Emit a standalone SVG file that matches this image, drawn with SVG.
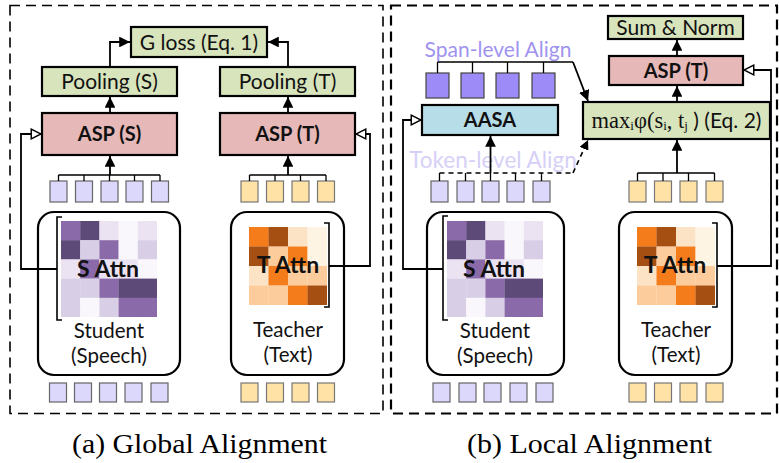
<svg xmlns="http://www.w3.org/2000/svg" width="779" height="463" viewBox="0 0 779 463">
<style>
.panel{fill:none;stroke:#000;stroke-width:1.6;stroke-dasharray:10,6}
.g{fill:#d8e4bc;stroke:#000;stroke-width:2.2}
.p{fill:#e6b8b7;stroke:#000;stroke-width:2.2}
.b{fill:#b7dee8;stroke:#000;stroke-width:2.2}
.rb{fill:#fff;stroke:#000;stroke-width:2.2}
.t{font-family:Lato,"Liberation Sans",sans-serif;font-size:21px;fill:#111;text-anchor:middle}
.bold{font-weight:bold;font-size:20px}
.att{font-weight:bold;font-size:23px}
.lbl{font-size:20.5px}
.sq{fill:#dcd8fc;stroke:#666;stroke-width:1.2}
.tq{fill:#ffe2a6;stroke:#777;stroke-width:1.2}
.spq{fill:#9d8cf7;stroke:#444;stroke-width:1.2}
.ln{fill:none;stroke:#000;stroke-width:1.8}
.tk{fill:none;stroke:#000;stroke-width:1.3}
.dl{fill:none;stroke:#000;stroke-width:1.6;stroke-dasharray:5,4}
.ar{marker-end:url(#ah)}
.ho{marker-end:url(#hh)}
.cap{font-family:"Liberation Serif",serif;font-size:27px;fill:#000;text-anchor:middle}
.br{fill:none;stroke:#000;stroke-width:1.6}
.s1{fill:#8a6aa9}.s2{fill:#5d4a78}.s3{fill:#ebe3f2}.s4{fill:#f9f6fc}.s5{fill:#d8cfe6}
.o1{fill:#f57c1b}.o2{fill:#a64f12}.o3{fill:#fde3c6}.o4{fill:#fef4e4}.o5{fill:#fdcc9c}
.ser{font-family:"Liberation Serif",serif}
.sub{font-family:"Liberation Serif",serif;font-size:13px}
</style>
<defs>
<marker id="ah" viewBox="0 0 10 10" refX="10" refY="5" markerWidth="6" markerHeight="6" orient="auto" markerUnits="strokeWidth">
<path d="M0,0 L10,5 L0,10 z" fill="#000"/>
</marker>
<marker id="hh" viewBox="0 0 12 12" refX="11" refY="6" markerWidth="6.5" markerHeight="6.5" orient="auto" markerUnits="strokeWidth">
<path d="M1,1 L11,6 L1,11 z" fill="#fff" stroke="#000" stroke-width="1.5"/>
</marker>
<g id="sHeat">
<rect class="s1" x="0" y="0" width="19.4" height="19.4"/><rect class="s2" x="19.2" y="0" width="19.4" height="19.4"/><rect class="s3" x="38.4" y="0" width="19.4" height="19.4"/><rect class="s4" x="57.6" y="0" width="19.4" height="19.4"/><rect class="s3" x="76.8" y="0" width="19.2" height="19.4"/>
<rect class="s2" x="0" y="19.2" width="19.4" height="19.4"/><rect class="s5" x="19.2" y="19.2" width="19.4" height="19.4"/><rect class="s1" x="38.4" y="19.2" width="19.4" height="19.4"/><rect class="s4" x="57.6" y="19.2" width="19.4" height="19.4"/><rect class="s5" x="76.8" y="19.2" width="19.2" height="19.4"/>
<rect class="s3" x="0" y="38.4" width="19.4" height="19.4"/><rect class="s1" x="19.2" y="38.4" width="19.4" height="19.4"/><rect class="s3" x="38.4" y="38.4" width="19.4" height="19.4"/><rect class="s3" x="57.6" y="38.4" width="19.4" height="19.4"/><rect class="s4" x="76.8" y="38.4" width="19.2" height="19.4"/>
<rect class="s5" x="0" y="57.6" width="19.4" height="19.4"/><rect class="s5" x="19.2" y="57.6" width="19.4" height="19.4"/><rect class="s1" x="38.4" y="57.6" width="19.4" height="19.4"/><rect class="s2" x="57.6" y="57.6" width="19.4" height="19.4"/><rect class="s2" x="76.8" y="57.6" width="19.2" height="19.4"/>
<rect class="s5" x="0" y="76.8" width="19.4" height="19.2"/><rect class="s4" x="19.2" y="76.8" width="19.4" height="19.2"/><rect class="s5" x="38.4" y="76.8" width="19.4" height="19.2"/><rect class="s1" x="57.6" y="76.8" width="19.4" height="19.2"/><rect class="s1" x="76.8" y="76.8" width="19.2" height="19.2"/>
</g>
<g id="tHeat">
<rect class="o1" x="0" y="0" width="19.7" height="19.7"/><rect class="o2" x="19.5" y="0" width="19.7" height="19.7"/><rect class="o3" x="39" y="0" width="19.7" height="19.7"/><rect class="o4" x="58.5" y="0" width="19.5" height="19.7"/>
<rect class="o2" x="0" y="19.5" width="19.7" height="19.7"/><rect class="o5" x="19.5" y="19.5" width="19.7" height="19.7"/><rect class="o1" x="39" y="19.5" width="19.7" height="19.7"/><rect class="o4" x="58.5" y="19.5" width="19.5" height="19.7"/>
<rect class="o3" x="0" y="39" width="19.7" height="19.7"/><rect class="o1" x="19.5" y="39" width="19.7" height="19.7"/><rect class="o5" x="39" y="39" width="19.7" height="19.7"/><rect class="o5" x="58.5" y="39" width="19.5" height="19.7"/>
<rect class="o5" x="0" y="58.5" width="19.7" height="19.5"/><rect class="o5" x="19.5" y="58.5" width="19.7" height="19.5"/><rect class="o1" x="39" y="58.5" width="19.7" height="19.5"/><rect class="o2" x="58.5" y="58.5" width="19.5" height="19.5"/>
</g>
</defs>
<rect width="779" height="463" fill="#fff"/>

<!-- panels -->
<rect class="panel" x="10" y="5.5" width="373" height="408"/>
<rect class="panel" x="391" y="5.5" width="386" height="408" style="stroke-width:2.2"/>

<!-- ===== Panel (a) ===== -->
<g id="gloss"><rect class="g" x="131" y="27" width="136" height="30"/><text class="t" x="199" y="49.5">G loss (Eq. 1)</text></g>
<g id="poolS"><rect class="g" x="42" y="67" width="135" height="29"/><text class="t" x="109.5" y="89">Pooling (S)</text></g>
<g id="poolT"><rect class="g" x="220" y="67" width="135" height="29"/><text class="t" x="287.5" y="89">Pooling (T)</text></g>
<g id="aspS"><rect class="p" x="42" y="113" width="135" height="42"/><text class="t bold" x="109.5" y="141">ASP (S)</text></g>
<g id="aspT"><rect class="p" x="220" y="113" width="135" height="42"/><text class="t bold" x="287.5" y="141">ASP (T)</text></g>
<g id="tokS_a">
<rect class="sq" x="50" y="181" width="17" height="21"/><rect class="sq" x="75.5" y="181" width="17" height="21"/><rect class="sq" x="101" y="181" width="17" height="21"/><rect class="sq" x="126" y="181" width="17" height="21"/><rect class="sq" x="151.5" y="181" width="17" height="21"/>
</g>
<g id="tokT_a">
<rect class="tq" x="241" y="181" width="17" height="21"/><rect class="tq" x="266.5" y="181" width="17" height="21"/><rect class="tq" x="292" y="181" width="17" height="21"/><rect class="tq" x="317.5" y="181" width="17" height="21"/>
</g>
<g id="student_a">
<rect class="rb" x="38" y="212" width="142" height="163" rx="16"/>
<use href="#sHeat" x="61" y="221"/>
<path class="br" d="M62,217 H57 V320 H62"/>
<text class="t att" x="108" y="277">S Attn</text>
<text class="t lbl" x="109" y="337.5">Student</text>
<text class="t lbl" x="109" y="362.5">(Speech)</text>
</g>
<g id="teacher_a">
<rect class="rb" x="231" y="212" width="113" height="163" rx="16"/>
<use href="#tHeat" x="249" y="227"/>
<path class="br" d="M324,223 H329 V307 H324"/>
<text class="t att" x="288" y="273">T Attn</text>
<text class="t lbl" x="288" y="336.5">Teacher</text>
<text class="t lbl" x="288" y="361.5">(Text)</text>
</g>
<g id="inS_a">
<rect class="sq" x="49.5" y="383" width="17" height="19"/><rect class="sq" x="74.5" y="383" width="17" height="19"/><rect class="sq" x="99.5" y="383" width="17" height="19"/><rect class="sq" x="125" y="383" width="17" height="19"/><rect class="sq" x="151" y="383" width="17" height="19"/>
</g>
<g id="inT_a">
<rect class="tq" x="241" y="383" width="17" height="19"/><rect class="tq" x="266.5" y="383" width="17" height="19"/><rect class="tq" x="292" y="383" width="17" height="19"/><rect class="tq" x="317.5" y="383" width="17" height="19"/>
</g>

<!-- ===== Panel (b) ===== -->
<g id="sumnorm"><rect class="g" x="608" y="16" width="135" height="23"/><text class="t" x="675.5" y="34.5">Sum &amp; Norm</text></g>
<g id="aspT_b"><rect class="p" x="609" y="56" width="134" height="29"/><text class="t bold" x="676" y="78">ASP (T)</text></g>
<g id="maxbox"><rect class="g" x="583" y="102" width="187" height="37"/>
<text x="676.5" y="127.5" style="text-anchor:middle;font-size:22.5px;fill:#111"><tspan class="ser">max</tspan><tspan class="sub" dy="2">i</tspan><tspan class="ser" dy="-2">φ(s</tspan><tspan class="sub" dy="2">i</tspan><tspan class="ser" dy="-2">, t</tspan><tspan class="sub" dy="2">j</tspan><tspan style="font-family:Lato,'Liberation Sans',sans-serif;font-size:21px" dy="-2"> ) (Eq. 2)</tspan></text>
</g>
<g id="aasa"><rect class="b" x="422" y="105" width="136" height="30"/><text class="t bold" x="490" y="127">AASA</text></g>
<g id="spanlbl"><text class="t" x="498" y="57" style="fill:#a093f0;font-size:21px">Span-level Align</text></g>
<g id="spans">
<rect class="spq" x="426" y="73" width="23" height="25"/><rect class="spq" x="461" y="73" width="23" height="25"/><rect class="spq" x="496" y="73" width="23" height="25"/><rect class="spq" x="532" y="73" width="23" height="25"/>
</g>
<g id="toklbl"><text class="t" x="493" y="168" style="fill:#d6d0f7;font-size:22.5px">Token-level Align</text></g>
<g id="tokS_b">
<rect class="sq" x="431" y="181" width="17" height="21"/><rect class="sq" x="457" y="181" width="17" height="21"/><rect class="sq" x="482" y="181" width="17" height="21"/><rect class="sq" x="507" y="181" width="17" height="21"/><rect class="sq" x="533" y="181" width="17" height="21"/>
</g>
<g id="tokT_b">
<rect class="tq" x="629" y="181" width="17" height="21"/><rect class="tq" x="654.5" y="181" width="17" height="21"/><rect class="tq" x="680" y="181" width="17" height="21"/><rect class="tq" x="706" y="181" width="17" height="21"/>
</g>
<g id="student_b">
<rect class="rb" x="427" y="212" width="137" height="163" rx="16"/>
<use href="#sHeat" x="447" y="221"/>
<path class="br" d="M448,216 H443 V320 H448"/>
<text class="t att" x="494" y="277">S Attn</text>
<text class="t lbl" x="495" y="337.5">Student</text>
<text class="t lbl" x="495" y="362.5">(Speech)</text>
</g>
<g id="teacher_b">
<rect class="rb" x="619" y="212" width="113" height="163" rx="16"/>
<use href="#tHeat" x="637" y="227"/>
<path class="br" d="M712,223 H717 V307 H712"/>
<text class="t att" x="675" y="273">T Attn</text>
<text class="t lbl" x="676" y="336.5">Teacher</text>
<text class="t lbl" x="676" y="361.5">(Text)</text>
</g>
<g id="inS_b">
<rect class="sq" x="433" y="383" width="17" height="19"/><rect class="sq" x="459" y="383" width="17" height="19"/><rect class="sq" x="484" y="383" width="17" height="19"/><rect class="sq" x="510" y="383" width="17" height="19"/><rect class="sq" x="536" y="383" width="17" height="19"/>
</g>
<g id="inT_b">
<rect class="tq" x="629" y="383" width="17" height="19"/><rect class="tq" x="654.5" y="383" width="17" height="19"/><rect class="tq" x="680" y="383" width="17" height="19"/><rect class="tq" x="706" y="383" width="17" height="19"/>
</g>

<!-- connectors -->
<g id="connectors">
<path class="ln ar" d="M110,67 V42 H130"/>
<path class="ln ar" d="M288,67 V42 H268"/>
<path class="ln ar" d="M110,113 V97"/>
<path class="ln ar" d="M288,113 V97"/>
<path class="tk" d="M58.5,175 H160 M58.5,175 V181 M84,175 V181 M109.5,175 V181 M134.5,175 V181 M160,175 V181"/>
<path class="ln ar" d="M110,175 V156"/>
<path class="tk" d="M249.5,175 H326 M249.5,175 V181 M275,175 V181 M300.5,175 V181 M326,175 V181"/>
<path class="ln ar" d="M288,175 V156"/>
<path class="ln ho" d="M57,269 H21 V134 H41"/>
<path class="ln ho" d="M329,266 H370 V134 H356"/>

<path class="ln ar" d="M677,56 V40"/>
<path class="ln ar" d="M677,102 V86"/>
<path class="tk" d="M437.5,62 H573 M437.5,62 V73 M472.5,62 V73 M507.5,62 V73 M543.5,62 V73"/>
<path class="ln ar" d="M573,62 L588,101"/>
<path class="dl" d="M439.5,173 H573"/>
<path class="tk" d="M439.5,173 V181 M465.5,173 V181 M490.5,173 V181 M515.5,173 V181 M541.5,173 V181"/>
<path class="dl ar" d="M573,173 L588,140"/>
<path class="ln ar" d="M490.5,173 V136"/>
<path class="tk" d="M637.5,173 H714.5 M637.5,173 V181 M663,173 V181 M688.5,173 V181 M714.5,173 V181"/>
<path class="ln ar" d="M677,173 V140"/>
<path class="ln ho" d="M443,269 H403 V120 H421"/>
<path class="ln ho" d="M717,266 H771 V70 H744"/>
</g>

<text class="cap" x="199.5" y="453" textLength="255" lengthAdjust="spacingAndGlyphs">(a) Global Alignment</text>
<text class="cap" x="589.5" y="453" textLength="245" lengthAdjust="spacingAndGlyphs">(b) Local Alignment</text>
</svg>
